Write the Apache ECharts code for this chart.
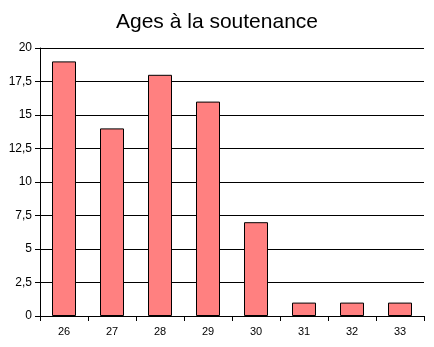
<!DOCTYPE html>
<html><head><meta charset="utf-8">
<script src="https://cdn.jsdelivr.net/npm/echarts@6/dist/echarts.min.js"></script>
<style>html,body{margin:0;padding:0;background:#fff}#c{width:434px;height:347px}</style>
</head><body><div id="c"></div>
<script>
var titleText = "Ages à la soutenance";
var categories = ["26","27","28","29","30","31","32","33"];
var values = [19,14,18,16,7,1,1,1];
var yMin = 0, yMax = 20, yStep = 2.5;

var chart = echarts.init(document.getElementById('c'), null, {renderer:'canvas'});
chart.setOption({
  animation:false,
  backgroundColor:'#fff',
  title:{text:titleText,left:'center',top:7,textStyle:{fontFamily:'Liberation Sans',fontSize:21,fontWeight:'normal',color:'#000'}},
  grid:{left:40,right:10,top:48,bottom:31},
  xAxis:{type:'category',data:categories,
    axisLine:{show:true,lineStyle:{color:'#000',width:1}},
    axisTick:{show:true,length:5,interval:0,lineStyle:{color:'#000',width:1}},
    axisLabel:{color:'#000',fontFamily:'Liberation Sans',fontSize:11,margin:10}},
  yAxis:{type:'value',min:yMin,max:yMax,interval:yStep,
    axisLine:{show:true,lineStyle:{color:'#000',width:1}},
    axisTick:{show:true,length:5,lineStyle:{color:'#000'}},
    splitLine:{lineStyle:{color:'#000',width:1}},
    axisLabel:{color:'#000',fontFamily:'Liberation Sans',fontSize:12,margin:8,
      formatter:function(v){return String(v).replace('.',',');}}},
  series:[{type:'bar',data:values,barWidth:'50%',
    itemStyle:{color:'#FF8080',borderColor:'#000',borderWidth:1}}]
});
</script></body></html>
